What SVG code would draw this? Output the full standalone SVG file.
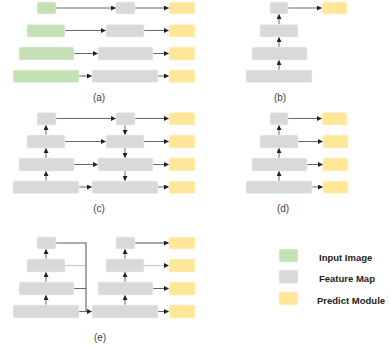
<svg xmlns="http://www.w3.org/2000/svg" width="390" height="348" viewBox="0 0 390 348">
<defs>
<style>
.g{fill:#c5e0b4;stroke:#eef5ea;stroke-width:0.6}
.f{fill:#d9d9d9;stroke:#f0f0f0;stroke-width:0.6}
.y{fill:#ffe699;stroke:#fff5d6;stroke-width:0.6}
.c{stroke:#404040;stroke-width:0.8;fill:none}
.a{marker-end:url(#ah)}
.lb{font-family:"Liberation Sans",Arial,sans-serif;font-size:10px;fill:#404040;text-anchor:middle}
.lg{font-family:"Liberation Sans",Arial,sans-serif;font-size:9.5px;font-weight:bold;fill:#222}
</style>
<marker id="ah" viewBox="0 0 6 6" refX="6" refY="3" markerWidth="5" markerHeight="5" orient="auto" markerUnits="userSpaceOnUse"><path d="M0,0L6,3L0,6z" fill="#222"/></marker>
</defs>
<rect width="390" height="348" fill="#ffffff"/>
<g id="connectors">
<!-- (a) -->
<path class="c a" d="M56,8H116"/><path class="c a" d="M135,8H169"/>
<path class="c a" d="M65,30.5H106"/><path class="c a" d="M144,30.5H169"/>
<path class="c a" d="M74,53.5H98"/><path class="c a" d="M153,53.5H169"/>
<path class="c a" d="M79,76H92"/><path class="c a" d="M158,76H169"/>
<!-- (b) -->
<path class="c a" d="M288,8H322"/>
<path class="c a" d="M279,24V14"/><path class="c a" d="M279,47V37"/><path class="c a" d="M279,70V60"/>
<!-- (c) -->
<path class="c a" d="M56,118.5H116"/><path class="c a" d="M135,118.5H169"/>
<path class="c a" d="M65,141.5H106"/><path class="c a" d="M144,141.5H169"/>
<path class="c a" d="M74,164.5H98"/><path class="c a" d="M153,164.5H169"/>
<path class="c a" d="M79,187H92"/><path class="c a" d="M158,187H169"/>
<path class="c a" d="M46,135V125"/><path class="c a" d="M46,158V148"/><path class="c a" d="M46,181V171"/>
<path class="c a" d="M125,125V135"/><path class="c a" d="M125,148V158"/><path class="c a" d="M125,171V181"/>
<!-- (d) -->
<path class="c a" d="M288,118.5H322"/><path class="c a" d="M298,141.5H323"/>
<path class="c a" d="M307,164.5H323"/><path class="c a" d="M312,187H323"/>
<path class="c a" d="M279,135V125"/><path class="c a" d="M279,158V148"/><path class="c a" d="M279,181V171"/>
<!-- (e) -->
<path class="c a" d="M46,259V249"/><path class="c a" d="M46,282V272"/><path class="c a" d="M46,305V295"/>
<path class="c a" d="M125,259V249"/><path class="c a" d="M125,282V272"/><path class="c a" d="M125,305V295"/>
<path d="M56,243H86V311" stroke="#606060" stroke-width="1.1" fill="none"/>
<path d="M65,265.5H86" stroke="#a0a0a0" stroke-width="0.6" fill="none"/>
<path d="M74,288.5H86" stroke="#404040" stroke-width="0.8" fill="none"/>
<path class="c a" d="M79,311.5H92"/>
<path class="a" d="M135,243H169" stroke="#505050" stroke-width="1.1" fill="none"/>
<path class="a" d="M144,265.5H169" stroke="#a0a0a0" stroke-width="0.6" fill="none"/>
<path class="c a" d="M153,288.5H169"/><path class="c a" d="M158,311.5H169"/>
</g>
<!-- (a) -->
<g id="a-in1"><rect class="g" x="37" y="2" width="19" height="12" rx="1.5"/></g>
<g id="a-in2"><rect class="g" x="27" y="24.5" width="38" height="12.5" rx="1.5"/></g>
<g id="a-in3"><rect class="g" x="19" y="47" width="55" height="13" rx="1.5"/></g>
<g id="a-in4"><rect class="g" x="13" y="70" width="66" height="12.5" rx="1.5"/></g>
<g id="a-f1"><rect class="f" x="116" y="2" width="19" height="12" rx="1.5"/></g>
<g id="a-f2"><rect class="f" x="106" y="24.5" width="38" height="12.5" rx="1.5"/></g>
<g id="a-f3"><rect class="f" x="98" y="47" width="55" height="13" rx="1.5"/></g>
<g id="a-f4"><rect class="f" x="92" y="70" width="66" height="12.5" rx="1.5"/></g>
<g id="a-p1"><rect class="y" x="169" y="2" width="26" height="12" rx="1.5"/></g>
<g id="a-p2"><rect class="y" x="169" y="24.5" width="26" height="12.5" rx="1.5"/></g>
<g id="a-p3"><rect class="y" x="169" y="47" width="26" height="13" rx="1.5"/></g>
<g id="a-p4"><rect class="y" x="169" y="70" width="26" height="12.5" rx="1.5"/></g>
<text class="lb" x="99" y="101">(a)</text>
<!-- (b) -->
<g id="b-f1"><rect class="f" x="270" y="2" width="18" height="12" rx="1.5"/></g>
<g id="b-f2"><rect class="f" x="260" y="24.5" width="38" height="12.5" rx="1.5"/></g>
<g id="b-f3"><rect class="f" x="252" y="47" width="55" height="13" rx="1.5"/></g>
<g id="b-f4"><rect class="f" x="246" y="70" width="66" height="12.5" rx="1.5"/></g>
<g id="b-p1"><rect class="y" x="322" y="2" width="25" height="12" rx="1.5"/></g>
<text class="lb" x="280" y="101">(b)</text>
<!-- (c) -->
<g id="c-l1"><rect class="f" x="37" y="112.5" width="19" height="12.5" rx="1.5"/></g>
<g id="c-l2"><rect class="f" x="27" y="135" width="38" height="13" rx="1.5"/></g>
<g id="c-l3"><rect class="f" x="19" y="158" width="55" height="13" rx="1.5"/></g>
<g id="c-l4"><rect class="f" x="13" y="181" width="66" height="12.5" rx="1.5"/></g>
<g id="c-m1"><rect class="f" x="116" y="112.5" width="19" height="12.5" rx="1.5"/></g>
<g id="c-m2"><rect class="f" x="106" y="135" width="38" height="13" rx="1.5"/></g>
<g id="c-m3"><rect class="f" x="98" y="158" width="55" height="13" rx="1.5"/></g>
<g id="c-m4"><rect class="f" x="92" y="181" width="66" height="12.5" rx="1.5"/></g>
<g id="c-p1"><rect class="y" x="169" y="112.5" width="26" height="12.5" rx="1.5"/></g>
<g id="c-p2"><rect class="y" x="169" y="135" width="26" height="13" rx="1.5"/></g>
<g id="c-p3"><rect class="y" x="169" y="158" width="26" height="13" rx="1.5"/></g>
<g id="c-p4"><rect class="y" x="169" y="181" width="26" height="12.5" rx="1.5"/></g>
<text class="lb" x="99" y="212">(c)</text>
<!-- (d) -->
<g id="d-f1"><rect class="f" x="270" y="112.5" width="18" height="12.5" rx="1.5"/></g>
<g id="d-f2"><rect class="f" x="260" y="135" width="38" height="13" rx="1.5"/></g>
<g id="d-f3"><rect class="f" x="252" y="158" width="55" height="13" rx="1.5"/></g>
<g id="d-f4"><rect class="f" x="246" y="181" width="66" height="12.5" rx="1.5"/></g>
<g id="d-p1"><rect class="y" x="322" y="112.5" width="25" height="12.5" rx="1.5"/></g>
<g id="d-p2"><rect class="y" x="323" y="135" width="25" height="13" rx="1.5"/></g>
<g id="d-p3"><rect class="y" x="323" y="158" width="25" height="13" rx="1.5"/></g>
<g id="d-p4"><rect class="y" x="323" y="181" width="25" height="12.5" rx="1.5"/></g>
<text class="lb" x="283" y="212">(d)</text>
<!-- (e) -->
<g id="e-l1"><rect class="f" x="37" y="237" width="19" height="12" rx="1.5"/></g>
<g id="e-l2"><rect class="f" x="27" y="259" width="38" height="13" rx="1.5"/></g>
<g id="e-l3"><rect class="f" x="19" y="282" width="55" height="13" rx="1.5"/></g>
<g id="e-l4"><rect class="f" x="13" y="305" width="66" height="13" rx="1.5"/></g>
<g id="e-m1"><rect class="f" x="116" y="237" width="19" height="12" rx="1.5"/></g>
<g id="e-m2"><rect class="f" x="106" y="259" width="38" height="13" rx="1.5"/></g>
<g id="e-m3"><rect class="f" x="98" y="282" width="55" height="13" rx="1.5"/></g>
<g id="e-m4"><rect class="f" x="92" y="305" width="66" height="13" rx="1.5"/></g>
<g id="e-p1"><rect class="y" x="169" y="237" width="26" height="12" rx="1.5"/></g>
<g id="e-p2"><rect class="y" x="169" y="259" width="26" height="13" rx="1.5"/></g>
<g id="e-p3"><rect class="y" x="169" y="282" width="26" height="13" rx="1.5"/></g>
<g id="e-p4"><rect class="y" x="169" y="305" width="26" height="13" rx="1.5"/></g>
<text class="lb" x="100" y="341">(e)</text>
<!-- legend -->
<g id="legend-input"><rect class="g" x="279" y="249" width="19" height="13" rx="1.5"/><text class="lg" x="319" y="261">Input Image</text></g>
<g id="legend-feature"><rect class="f" x="279" y="270" width="19" height="13.5" rx="1.5"/><text class="lg" x="319" y="282">Feature Map</text></g>
<g id="legend-predict"><rect class="y" x="279" y="292" width="19" height="13" rx="1.5"/><text class="lg" x="317" y="303.5">Predict Module</text></g>
</svg>
